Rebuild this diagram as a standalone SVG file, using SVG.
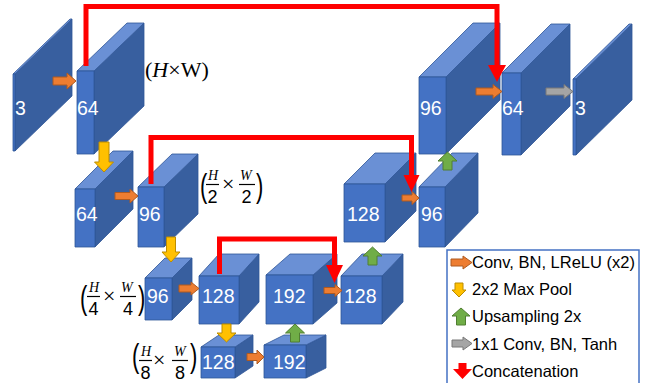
<svg xmlns="http://www.w3.org/2000/svg" width="649" height="383" viewBox="0 0 649 383">
<style>
.f{fill:#4472C4;stroke:#2F5597;stroke-width:0.8;stroke-linejoin:round}
.t{fill:#6A90D5;stroke:#2F5597;stroke-width:0.8;stroke-linejoin:round}
.s{fill:#385F9F;stroke:#2F5597;stroke-width:0.8;stroke-linejoin:round}
.lbl{font-family:"Liberation Sans",Arial,sans-serif;font-size:19.5px;fill:#fff}
.or{fill:#ED7D31;stroke:#AE5A21;stroke-width:1}
.ye{fill:#FFC000;stroke:#BC8C00;stroke-width:1}
.gr{fill:#70AD47;stroke:#507E32;stroke-width:1}
.gy{fill:#A5A5A5;stroke:#787878;stroke-width:1}
.rl{fill:none;stroke:#FF0000;stroke-width:5;stroke-linejoin:miter}
.rh{fill:#FF0000}
.m{font-family:"Liberation Serif","Times New Roman",serif;fill:#000}
.p{font-family:"Liberation Sans",Arial,sans-serif;font-size:22px;fill:#000}
.mi{font-family:"Liberation Serif","Times New Roman",serif;font-style:italic;font-size:14px;fill:#000}
.md{font-family:"Liberation Sans",Arial,sans-serif;font-size:18px;fill:#000;text-anchor:middle}
.bar{stroke:#000;stroke-width:1.2}
.leg{font-family:"Liberation Sans",Arial,sans-serif;font-size:16.5px;fill:#000}
</style>

<!-- Encoder -->
<g id="in3">
<polygon class="s" points="15,74 72,19 72,96 15,151"/>
<polygon class="t" points="13,74 15,74 72,19 70,19"/>
<rect class="f" x="13" y="74" width="2" height="77"/>
<text class="lbl" x="15" y="115">3</text>
</g>
<g id="enc64">
<polygon class="s" points="94,71 144,23 144,106 94,154"/>
<polygon class="t" points="77,71 94,71 144,23 127,23"/>
<rect class="f" x="77" y="71" width="17" height="83"/>
<text class="lbl" x="77" y="115">64</text>
</g>
<g id="enc64b">
<polygon class="s" points="95,189 133,151 133,209 95,247"/>
<polygon class="t" points="75,189 95,189 133,151 113,151"/>
<rect class="f" x="75" y="189" width="20" height="58"/>
<text class="lbl" x="76" y="221">64</text>
</g>
<g id="enc96">
<polygon class="s" points="164,187 198,154 198,214 164,247"/>
<polygon class="t" points="138,187 164,187 198,154 172,154"/>
<rect class="f" x="138" y="187" width="26" height="60"/>
<text class="lbl" x="139" y="221">96</text>
</g>
<g id="enc96b">
<polygon class="s" points="172,278 192,258 192,300 172,320"/>
<polygon class="t" points="145,278 172,278 192,258 165,258"/>
<rect class="f" x="145" y="278" width="27" height="42"/>
<text class="lbl" x="147" y="303">96</text>
</g>
<g id="enc128">
<polygon class="s" points="239,276 259,254 259,302 239,324"/>
<polygon class="t" points="199,276 239,276 259,254 219,254"/>
<rect class="f" x="199" y="276" width="40" height="48"/>
<text class="lbl" x="202" y="303">128</text>
</g>
<g id="bot128">
<polygon class="s" points="235,347 253,335 253,366 235,378"/>
<polygon class="t" points="201,347 235,347 253,335 219,335"/>
<rect class="f" x="201" y="347" width="34" height="31"/>
<text class="lbl" x="202" y="369">128</text>
</g>
<g id="bot192">
<polygon class="s" points="306,345 326,335 326,368 306,378"/>
<polygon class="t" points="264,345 306,345 326,335 284,335"/>
<rect class="f" x="264" y="345" width="42" height="33"/>
<text class="lbl" x="273" y="369">192</text>
</g>

<!-- Decoder -->
<g id="dec192">
<polygon class="s" points="313,275 337,254 337,303 313,324"/>
<polygon class="t" points="266,275 313,275 337,254 290,254"/>
<rect class="f" x="266" y="275" width="47" height="49"/>
<text class="lbl" x="273" y="303">192</text>
</g>
<g id="dec128b">
<polygon class="s" points="382,276 403,254 403,302 382,324"/>
<polygon class="t" points="341,276 382,276 403,254 362,254"/>
<rect class="f" x="341" y="276" width="41" height="48"/>
<text class="lbl" x="344" y="303">128</text>
</g>
<g id="dec128">
<polygon class="s" points="385,184 416,153 416,211 385,242"/>
<polygon class="t" points="344,184 385,184 416,153 375,153"/>
<rect class="f" x="344" y="184" width="41" height="58"/>
<text class="lbl" x="347" y="221">128</text>
</g>
<g id="dec96b">
<polygon class="s" points="445,187 478,153 478,213 445,247"/>
<polygon class="t" points="419,187 445,187 478,153 452,153"/>
<rect class="f" x="419" y="187" width="26" height="60"/>
<text class="lbl" x="421" y="221">96</text>
</g>
<g id="dec96">
<polygon class="s" points="446,77 500,23 500,100 446,154"/>
<polygon class="t" points="419,77 446,77 500,23 473,23"/>
<rect class="f" x="419" y="77" width="27" height="77"/>
<text class="lbl" x="420" y="115">96</text>
</g>
<g id="dec64">
<polygon class="s" points="521,73 570,24 570,106 521,155"/>
<polygon class="t" points="502,73 521,73 570,24 551,24"/>
<rect class="f" x="502" y="73" width="19" height="82"/>
<text class="lbl" x="502" y="115">64</text>
</g>
<g id="out3">
<polygon class="s" points="576,79 632,24 632,100 576,155"/>
<polygon class="t" points="573,79 576,79 632,24 629,24"/>
<rect class="f" x="573" y="79" width="3" height="76"/>
<text class="lbl" x="575" y="115">3</text>
</g>

<!-- Size labels -->
<g id="size1">
<text class="m" font-size="22" x="145" y="77">(<tspan font-style="italic">H</tspan>×W)</text>
</g>
<g id="size2">
<text class="p" transform="translate(200,197) scale(1,1.55)">(</text>
<text class="mi" x="208" y="180">H</text>
<line class="bar" x1="206" y1="184.5" x2="219" y2="184.5"/>
<text class="md" x="212.5" y="203">2</text>
<text class="m" font-size="22" x="222" y="190.5">×</text>
<text class="mi" x="240" y="180">W</text>
<line class="bar" x1="239" y1="184.5" x2="255" y2="184.5"/>
<text class="md" x="246.5" y="203">2</text>
<text class="p" transform="translate(256,197) scale(1,1.55)">)</text>
</g>
<g id="size4">
<text class="p" transform="translate(80,309) scale(1,1.55)">(</text>
<text class="mi" x="89" y="292">H</text>
<line class="bar" x1="87" y1="296.5" x2="100" y2="296.5"/>
<text class="md" x="93.5" y="315">4</text>
<text class="m" font-size="22" x="103" y="302.5">×</text>
<text class="mi" x="121" y="292">W</text>
<line class="bar" x1="120" y1="296.5" x2="136" y2="296.5"/>
<text class="md" x="128" y="315">4</text>
<text class="p" transform="translate(138,309) scale(1,1.55)">)</text>
</g>
<g id="size8">
<text class="p" transform="translate(132,367) scale(1,1.55)">(</text>
<text class="mi" x="141" y="356">H</text>
<line class="bar" x1="139" y1="360.5" x2="152" y2="360.5"/>
<text class="md" x="145.5" y="379">8</text>
<text class="m" font-size="22" x="153" y="366.5">×</text>
<text class="mi" x="174" y="356">W</text>
<line class="bar" x1="172" y1="360.5" x2="188" y2="360.5"/>
<text class="md" x="180" y="379">8</text>
<text class="p" transform="translate(190,367) scale(1,1.55)">)</text>
</g>

<!-- Connectors -->
<g id="connectors">
<path class="or" d="M53,77 H67 V73 L76,81 L67,89 V85 H53 Z"/>
<path class="or" d="M115,192.5 H130 V189 L138,196 L130,203 V199.5 H115 Z"/>
<path class="or" d="M179,285 H191 V282 L199,288.5 L191,295 V292 H179 Z"/>
<path class="or" d="M247,353.5 H257 V350 L264,357 L257,364 V360.5 H247 Z"/>
<path class="or" d="M324,287.5 H335 V284.5 L342,290.5 L335,296.5 V293.5 H324 Z"/>
<path class="or" d="M402,195 H412 V191.5 L419,198 L412,204.5 V201 H402 Z"/>
<path class="or" d="M476,88 H493 V84.5 L502,91.5 L493,98.5 V95 H476 Z"/>
<path class="gy" d="M546,88 H564 V84.5 L573,91.5 L564,98.5 V95 H546 Z"/>
<path class="ye" d="M99,142 H109 V162 H113.5 L104,172 L94.5,162 H99 Z"/>
<path class="ye" d="M166.5,237 H175.5 V252 H180 L171,262 L162,252 H166.5 Z"/>
<path class="ye" d="M222,324 H231 V333 H236 L226.5,342 L217,333 H222 Z"/>
<path class="gr" d="M447.5,152 L457,161 H452 V170 H443 V161 H438 Z"/>
<path class="gr" d="M372.5,247 L382,256 H377 V265 H368 V256 H363 Z"/>
<path class="gr" d="M295,324 L304.5,333 H299.5 V342 H290.5 V333 H285.5 Z"/>
<path class="rl" d="M86,66 V6.5 H497 V66"/>
<polygon class="rh" points="488,65 506,65 497,82"/>
<path class="rl" d="M151,184 V137.5 H411.5 V176"/>
<polygon class="rh" points="403.5,175 419.5,175 411.5,192"/>
<path class="rl" d="M219.5,274 V239 H334.5 V266"/>
<polygon class="rh" points="326,265 343,265 334.5,283"/>
</g>

<!-- Legend -->
<g id="legend">
<rect x="447" y="250" width="192" height="145" fill="#fff" stroke="#4472C4" stroke-width="1.5"/>
<path class="or" d="M451,259 H463 V256 L472,262.5 L463,269 V266 H451 Z"/>
<text class="leg" x="472" y="268">Conv, BN, LReLU (x2)</text>
<path class="ye" d="M455,283 H463 V290 H466 L459,297 L452,290 H455 Z"/>
<text class="leg" x="472" y="295">2x2 Max Pool</text>
<path class="gr" d="M461,308 L470,316 H465.5 V325 H456.5 V316 H452 Z"/>
<text class="leg" x="472" y="322">Upsampling 2x</text>
<path class="gy" d="M452,340 H463 V337 L472,343.5 L463,350 V347 H452 Z"/>
<text class="leg" x="472" y="350">1x1 Conv, BN, Tanh</text>
<path d="M458.5,363 H466.5 V369 H472 L462.5,379 L453,369 H458.5 Z" fill="#FF0000"/>
<text class="leg" x="472" y="377">Concatenation</text>
</g>
</svg>
